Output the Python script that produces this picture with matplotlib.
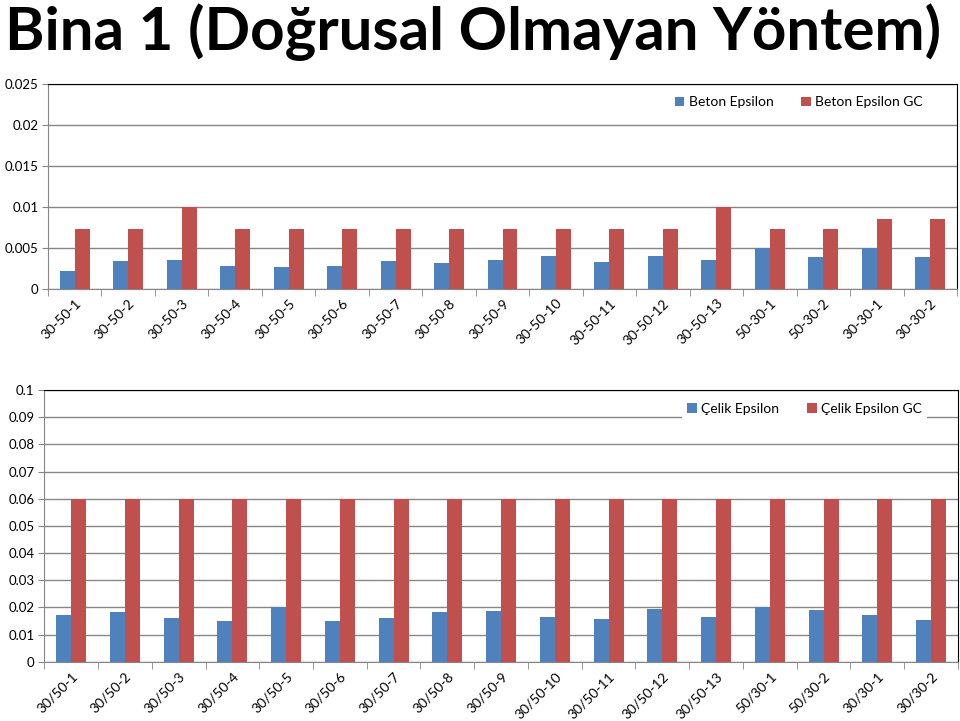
import matplotlib
matplotlib.use('Agg')
import matplotlib.pyplot as plt
import numpy as np
from matplotlib.ticker import FixedLocator

plt.rcParams['font.family'] = ['Lato', 'DejaVu Sans']

# veri - üst grafik (beton)
beton_kat = ['30-50-1', '30-50-2', '30-50-3', '30-50-4', '30-50-5', '30-50-6',
             '30-50-7', '30-50-8', '30-50-9', '30-50-10', '30-50-11', '30-50-12',
             '30-50-13', '50-30-1', '50-30-2', '30-30-1', '30-30-2']
beton_eps = [0.00215, 0.00341, 0.0035, 0.0028, 0.00268, 0.00272, 0.00333, 0.00313,
             0.00354, 0.00394, 0.00325, 0.00402, 0.0035, 0.005, 0.00386, 0.005, 0.00386]
beton_eps_gc = [0.00724, 0.00724, 0.01, 0.00724, 0.00724, 0.00724, 0.00724, 0.00724,
                0.00724, 0.00724, 0.00724, 0.00724, 0.01, 0.00724, 0.00724, 0.00854, 0.00854]

# veri - alt grafik (çelik)
celik_kat = ['30/50-1', '30/50-2', '30/50-3', '30/50-4', '30/50-5', '30/50-6',
             '30/50-7', '30/50-8', '30/50-9', '30/50-10', '30/50-11', '30/50-12',
             '30/50-13', '50/30-1', '50/30-2', '30/30-1', '30/30-2']
celik_eps = [0.0171, 0.0182, 0.016, 0.0151, 0.0202, 0.0151, 0.016, 0.0182,
             0.0188, 0.0163, 0.0156, 0.0194, 0.0163, 0.02, 0.019, 0.0171, 0.0153]
celik_eps_gc = [0.06] * 17

mavi = '#4F81BD'
kirmizi = '#C0504D'
gri = '#868686'


def grafik(ax, kat, s1, s2, ad1, ad2, yticks, ylabels, leg_x, leg_y):
    x = np.arange(len(kat))
    w = 0.28
    ax.bar(x - w / 2, s1, w, color=mavi, label=ad1, zorder=3)
    ax.bar(x + w / 2, s2, w, color=kirmizi, label=ad2, zorder=3)
    ax.set_xlim(-0.5, len(kat) - 0.5)
    ax.set_ylim(yticks[0], yticks[-1])
    ax.set_yticks(yticks)
    ax.set_yticklabels(ylabels, fontsize=9.5)
    ax.yaxis.grid(True, color=gri, lw=1, zorder=0)
    ax.set_xticks(x)
    ax.set_xticklabels(kat, rotation=45, ha='right', rotation_mode='anchor', fontsize=10)
    ax.tick_params(axis='x', which='major', length=0, pad=6)
    ax.xaxis.set_minor_locator(FixedLocator(np.arange(-0.5, len(kat), 1)))
    ax.tick_params(axis='x', which='minor', length=5, color=gri, direction='out')
    ax.tick_params(axis='y', length=4, color=gri, pad=3)
    for s in ['left', 'bottom']:
        ax.spines[s].set_color(gri)
    for s in ['top', 'right']:
        ax.spines[s].set_color('black')
    ax.set_axisbelow(True)
    leg = ax.legend(loc='center right', bbox_to_anchor=(leg_x, leg_y), ncol=2, frameon=True,
                    fontsize=10, handlelength=0.7, handleheight=0.7, handletextpad=0.3,
                    columnspacing=2.0, borderpad=0.4)
    leg.get_frame().set_edgecolor('none')
    leg.get_frame().set_facecolor('white')
    leg.get_frame().set_alpha(1)


fig = plt.figure(figsize=(9.6, 7.21), dpi=100)

ax1 = fig.add_axes([0.05, 0.5996, 0.9469, 0.2839])
grafik(ax1, beton_kat, beton_eps, beton_eps_gc, 'Beton Epsilon', 'Beton Epsilon GC',
       [0, 0.005, 0.01, 0.015, 0.02, 0.025], ['0', '0.005', '0.01', '0.015', '0.02', '0.025'],
       0.976, 0.91)

ax2 = fig.add_axes([0.0461, 0.0822, 0.9518, 0.3768])
grafik(ax2, celik_kat, celik_eps, celik_eps_gc, 'Çelik Epsilon', 'Çelik Epsilon GC',
       [0, 0.01, 0.02, 0.03, 0.04, 0.05, 0.06, 0.07, 0.08, 0.09, 0.1],
       ['0', '0.01', '0.02', '0.03', '0.04', '0.05', '0.06', '0.07', '0.08', '0.09', '0.1'],
       0.974, 0.93)

fig.text(0.005, 0.995, 'Bina 1 (Doğrusal Olmayan Yöntem)', fontsize=43.2, fontweight='bold',
         ha='left', va='top')

fig.savefig('out.png', dpi=100)
